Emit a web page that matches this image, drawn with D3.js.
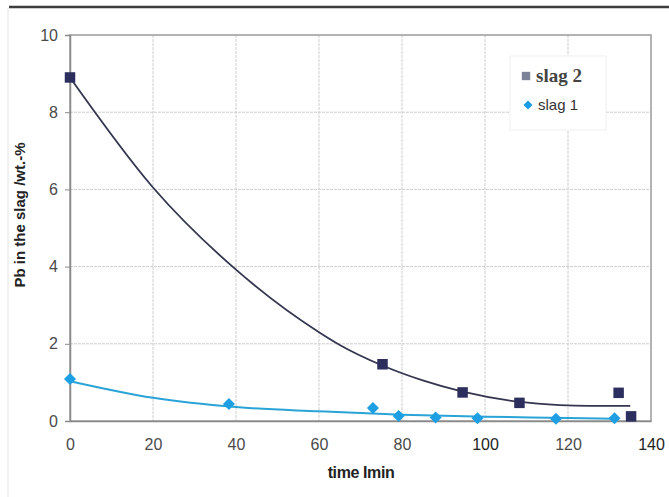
<!DOCTYPE html>
<meta charset="utf-8">
<style>

body {
  margin: 0;
  background: #fff;
}

</style>
<body>
<script src="https://d3js.org/d3.v7.min.js"></script>
<script>

// measured points
var slag2Time = [0, 75.3, 94.6, 108.3, 132.2, 135.2],
    slag2Pb = [8.9, 1.47, 0.74, 0.47, 0.73, 0.12];

var slag1Time = [0, 38.3, 73, 79.2, 88.1, 98.2, 117.1, 131.2],
    slag1Pb = [1.09, 0.44, 0.34, 0.13, 0.09, 0.07, 0.06, 0.07];

// trend lines
var trend2Time = [0, 20, 40, 60, 65, 75, 85, 94.6, 108, 118, 125, 135],
    trend2Pb = [8.9, 6.05, 3.92, 2.3, 1.97, 1.45, 1.05, 0.76, 0.5, 0.41, 0.39, 0.39];

var trend1Time = [0, 20, 40, 60, 80, 100, 120, 131],
    trend1Pb = [1.03, 0.6, 0.36, 0.25, 0.16, 0.11, 0.08, 0.06];

var xTicks = [0, 20, 40, 60, 80, 100, 120, 140],
    yTicks = [0, 2, 4, 6, 8, 10];

var seriesNames = ["slag 2", "slag 1"];

var sans = "'Liberation Sans', Arial, sans-serif",
    serif = "'Liberation Serif', 'Times New Roman', serif";

var width = 669,
    height = 497,
    plotLeft = 70,
    plotRight = 651,
    plotTop = 35,
    plotBottom = 421;

var x = d3.scaleLinear().domain([0, 140]).range([plotLeft, plotRight]),
    y = d3.scaleLinear().domain([0, 10]).range([plotBottom, plotTop]);

var svg = d3.select("body").append("svg")
    .attr("width", width)
    .attr("height", height)
    .style("font-family", sans);

// scan frame
svg.append("line")
    .attr("x1", 9).attr("x2", width).attr("y1", 7).attr("y2", 7)
    .attr("stroke", "#3d3d3d").attr("stroke-width", 2.5);
svg.append("line")
    .attr("x1", 8).attr("x2", 8).attr("y1", 8).attr("y2", height)
    .attr("stroke", "#e4e4e4").attr("stroke-width", 1);

// grid
svg.append("g").selectAll("line")
    .data(yTicks.slice(1, -1))
  .enter().append("line")
    .attr("x1", plotLeft).attr("x2", plotRight)
    .attr("y1", function(d) { return y(d); })
    .attr("y2", function(d) { return y(d); })
    .attr("stroke", "#cdcdcd")
    .attr("stroke-dasharray", "3,1");

svg.append("g").selectAll("line")
    .data(xTicks.slice(1, -1))
  .enter().append("line")
    .attr("x1", function(d) { return x(d); })
    .attr("x2", function(d) { return x(d); })
    .attr("y1", plotTop).attr("y2", plotBottom)
    .attr("stroke", "#cdcdcd")
    .attr("stroke-dasharray", "3,1");

// plot frame
svg.append("rect")
    .attr("x", plotLeft).attr("y", plotTop)
    .attr("width", plotRight - plotLeft).attr("height", plotBottom - plotTop)
    .attr("fill", "none")
    .attr("stroke", "#9a9a9a")
    .attr("stroke-width", 1.5);

// axes
var yAxis = svg.append("g")
    .attr("transform", "translate(" + plotLeft + ",0)")
    .call(d3.axisLeft(y).tickValues(yTicks).tickSize(5).tickPadding(7));

var xAxis = svg.append("g")
    .attr("transform", "translate(0," + plotBottom + ")")
    .call(d3.axisBottom(x).tickValues(xTicks).tickSize(0).tickPadding(18));

[yAxis, xAxis].forEach(function(g) {
  g.select(".domain").attr("stroke", "#8a8a8a").attr("stroke-width", 1.5);
  g.selectAll(".tick line").attr("stroke", "#8a8a8a");
  g.selectAll(".tick text")
      .attr("fill", "#4a4a4a")
      .style("font-size", "16px")
      .style("font-family", sans);
});

xAxis.selectAll(".tick text")
    .filter(function(d) { return d === 100 || d === 140; })
    .attr("fill", "#222");

// axis titles
svg.append("text")
    .attr("x", 361).attr("y", 478)
    .attr("text-anchor", "middle")
    .attr("font-weight", "bold")
    .attr("font-size", 16)
    .attr("letter-spacing", "-0.4")
    .attr("fill", "#222")
    .text("time Imin");

svg.append("text")
    .attr("transform", "translate(25,215) rotate(-90)")
    .attr("text-anchor", "middle")
    .attr("font-weight", "bold")
    .attr("font-size", 15)
    .attr("fill", "#222")
    .text("Pb in the slag /wt.-%");

// trend lines
var line = d3.line()
    .x(function(d) { return x(d[0]); })
    .y(function(d) { return y(d[1]); })
    .curve(d3.curveMonotoneX);

svg.append("path")
    .datum(d3.zip(trend1Time, trend1Pb))
    .attr("d", line)
    .attr("fill", "none")
    .attr("stroke", "#2aa3d6")
    .attr("stroke-width", 2);

svg.append("path")
    .datum(d3.zip(trend2Time, trend2Pb))
    .attr("d", line)
    .attr("fill", "none")
    .attr("stroke", "#34364f")
    .attr("stroke-width", 1.8);

// markers
var square = d3.symbol().type(d3.symbolSquare).size(110),
    diamond = d3.symbol().type(d3.symbolSquare).size(72);

svg.append("g").selectAll("path")
    .data(d3.zip(slag2Time, slag2Pb))
  .enter().append("path")
    .attr("transform", function(d) { return "translate(" + x(d[0]) + "," + y(d[1]) + ")"; })
    .attr("d", square)
    .attr("fill", "#2c2e5e");

svg.append("g").selectAll("path")
    .data(d3.zip(slag1Time, slag1Pb))
  .enter().append("path")
    .attr("transform", function(d) { return "translate(" + x(d[0]) + "," + y(d[1]) + ") rotate(45)"; })
    .attr("d", diamond)
    .attr("fill", "#1e9fe4");

// legend
var legend = svg.append("g");

legend.append("rect")
    .attr("x", 510).attr("y", 56)
    .attr("width", 96).attr("height", 74)
    .attr("fill", "#fff")
    .attr("stroke", "#efefef");

legend.append("path")
    .attr("transform", "translate(526,76)")
    .attr("d", d3.symbol().type(d3.symbolSquare).size(70))
    .attr("fill", "#7c8298");

legend.append("text")
    .attr("x", 536).attr("y", 82)
    .style("font-family", serif)
    .attr("font-weight", "bold")
    .attr("font-size", 19)
    .attr("fill", "#444")
    .text(seriesNames[0]);

legend.append("path")
    .attr("transform", "translate(528,105) rotate(45)")
    .attr("d", d3.symbol().type(d3.symbolSquare).size(40))
    .attr("fill", "#1a9be6");

legend.append("text")
    .attr("x", 538).attr("y", 110)
    .attr("font-size", 15)
    .attr("fill", "#333")
    .text(seriesNames[1]);

</script>
